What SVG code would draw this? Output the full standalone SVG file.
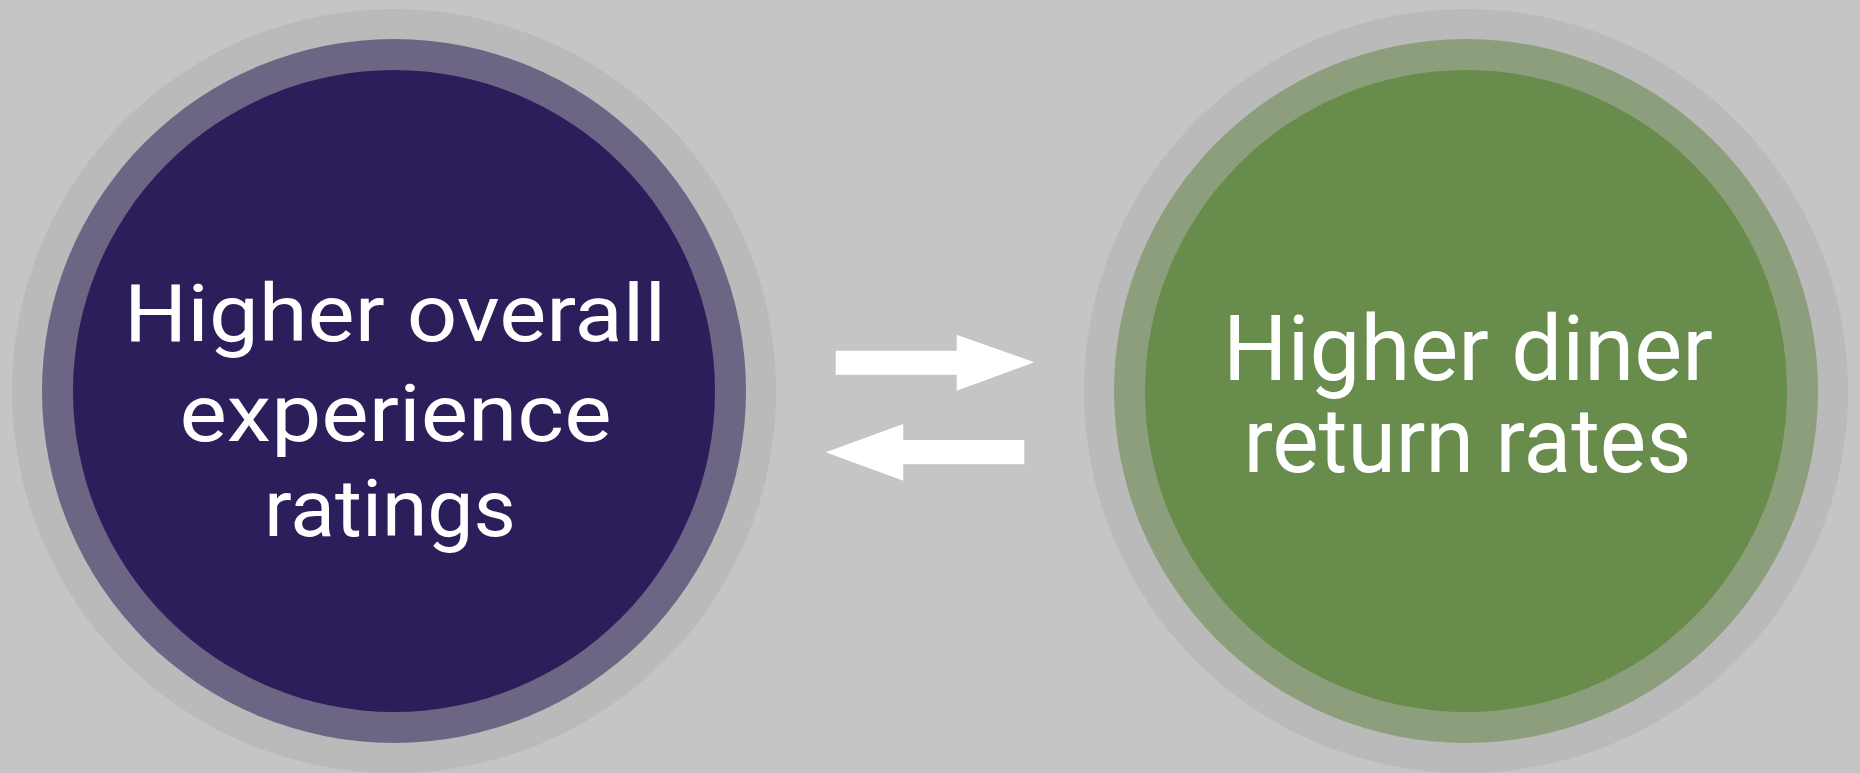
<svg xmlns="http://www.w3.org/2000/svg" width="1860" height="773" viewBox="0 0 1860 773">
  <style>
    .halo { fill: #bababa; }
    .label { font-family: Roboto, "Open Sans", "Liberation Sans", sans-serif; fill: #ffffff; text-anchor: middle; font-variant-ligatures: none; }
    .left { font-size: 80px; }
    .right { font-size: 90px; }
    .arrow { fill: #ffffff; }
  </style>
  <rect width="1860" height="773" fill="#c5c5c5"/>

  <g id="node-ratings">
    <circle class="halo" cx="394" cy="391" r="382"/>
    <circle cx="394" cy="391" r="352" fill="#6d6584"/>
    <circle cx="394" cy="391" r="321" fill="#2c1e5a"/>
    <text class="label left" x="395" y="341" textLength="542" lengthAdjust="spacingAndGlyphs">Higher overall</text>
    <text class="label left" x="395.5" y="441" textLength="432" lengthAdjust="spacingAndGlyphs">experience</text>
    <text class="label left" x="390" y="536" textLength="252" lengthAdjust="spacingAndGlyphs">ratings</text>
  </g>

  <g id="node-return">
    <circle class="halo" cx="1466" cy="391" r="382"/>
    <circle cx="1466" cy="391" r="352" fill="#8c9e7c"/>
    <circle cx="1466" cy="391" r="321" fill="#688c4b"/>
    <text class="label right" x="1468" y="380" textLength="490" lengthAdjust="spacingAndGlyphs">Higher diner</text>
    <text class="label right" x="1467.5" y="472" textLength="448" lengthAdjust="spacingAndGlyphs">return rates</text>
  </g>

  <g id="connectors">
    <polygon class="arrow" points="835.7,350.7 956.7,350.7 956.7,334.7 1034.3,362.3 956.7,390.7 956.7,374.7 835.7,374.7"/>
    <polygon class="arrow" points="1024.3,440 903.3,440 903.3,424 825.7,452.3 903.3,480.7 903.3,464.3 1024.3,464.3"/>
  </g>
</svg>
